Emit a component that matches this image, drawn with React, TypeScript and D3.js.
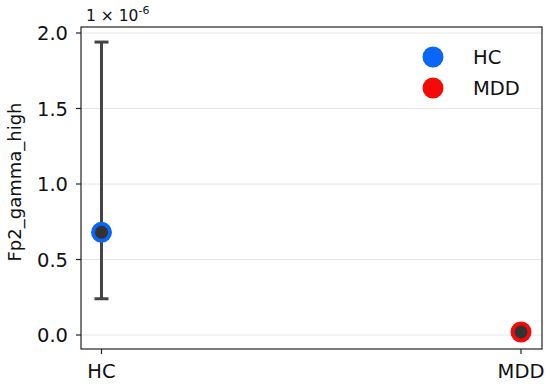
import React from "react";
import * as d3 from "d3";

const groups = ["HC", "MDD"];
const means = [0.68, 0.02];
const errLow = [0.24, null];
const errHigh = [1.94, null];
const groupColors = ["#0a66f5", "#f50a0a"];
const yTicks = [0, 0.5, 1.0, 1.5, 2.0];

const W = 550;
const H = 386;
const left = 81;
const right = 542;
const top = 27;
const bottom = 349;

export default function App() {
  const x = d3.scalePoint().domain(groups).range([101.5, 521]);
  const y = d3.scaleLinear().domain([0, 2]).range([335, 33]);
  const font = "'DejaVu Sans', sans-serif";

  return (
    <svg width={W} height={H} style={{ position: "absolute", left: 0, top: 0 }} fontFamily={font}>
      <rect width={W} height={H} fill="#fff" />
      {yTicks.map((t) => (
        <g key={t}>
          <line x1={left} x2={right} y1={y(t)} y2={y(t)} stroke="#e6e6e6" strokeWidth={1} />
          <line x1={left - 5} x2={left} y1={y(t)} y2={y(t)} stroke="#222" strokeWidth={1.2} />
          <text x={left - 13} y={y(t)} dy="0.36em" textAnchor="end" fontSize={19.5} fill="#111">
            {t.toFixed(1)}
          </text>
        </g>
      ))}
      {groups.map((g) => (
        <g key={g}>
          <line x1={x(g)} x2={x(g)} y1={bottom} y2={bottom + 5} stroke="#222" strokeWidth={1.2} />
          <text x={x(g)} y={bottom + 29} textAnchor="middle" fontSize={19.5} fill="#111">
            {g}
          </text>
        </g>
      ))}
      <rect x={left} y={top} width={right - left} height={bottom - top} fill="none" stroke="#222" strokeWidth={1.2} />
      <text x={86} y={21} fontSize={15.5} fill="#111">
        1 × 10<tspan dy={-7} fontSize={11}>-6</tspan>
      </text>
      <text transform={`translate(21,182) rotate(-90)`} textAnchor="middle" fontSize={18} fill="#111">
        Fp2_gamma_high
      </text>
      {groups.map((g, i) => {
        const cx = x(g) as number;
        const lo = errLow[i];
        const hi = errHigh[i];
        return (
          <g key={g}>
            {lo !== null && hi !== null && (
              <g stroke="#444" strokeWidth={3}>
                <line x1={cx} x2={cx} y1={y(lo)} y2={y(hi)} />
                <line x1={cx - 7} x2={cx + 7} y1={y(lo)} y2={y(lo)} />
                <line x1={cx - 7} x2={cx + 7} y1={y(hi)} y2={y(hi)} />
              </g>
            )}
            <circle cx={cx} cy={y(means[i])} r={10.5} fill={groupColors[i]} />
            <circle cx={cx} cy={y(means[i])} r={6.5} fill="#333" />
          </g>
        );
      })}
      {groups.map((g, i) => (
        <g key={g}>
          <circle cx={433} cy={57 + i * 31} r={10.5} fill={groupColors[i]} />
          <text x={473} y={57 + i * 31} dy="0.36em" fontSize={19.5} fill="#111">
            {g}
          </text>
        </g>
      ))}
    </svg>
  );
}
